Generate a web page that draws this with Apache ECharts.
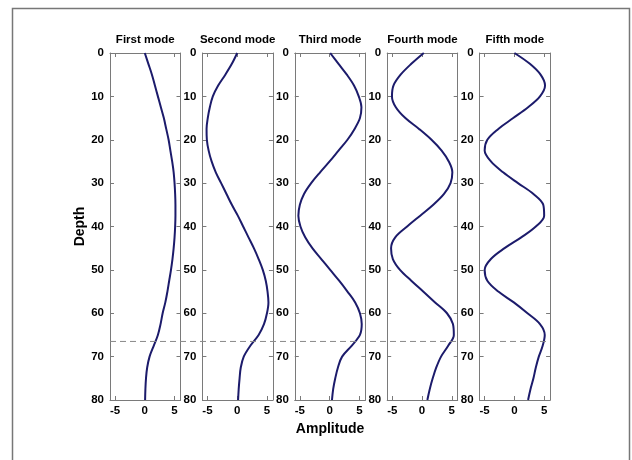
<!DOCTYPE html>
<html>
<head>
<meta charset="utf-8">
<script src="https://cdn.jsdelivr.net/npm/echarts@6/dist/echarts.min.js"></script>
<style>
html,body{margin:0;padding:0;background:#fff;}
#chart{width:632px;height:460px;}
</style>
</head>
<body>
<div id="chart"></div>
<script>
// ---- data ----
const titles = ['First mode', 'Second mode', 'Third mode', 'Fourth mode', 'Fifth mode'];
const depths = [0, 2.5, 5, 7.5, 10, 12.5, 15, 17.5, 20, 22.5, 25, 27.5, 30, 32.5, 35, 37.5, 40,
                42.5, 45, 47.5, 50, 52.5, 55, 57.5, 60, 62.5, 65, 67.5, 70, 72.5, 75, 77.5, 80];
const mode1 = [0.0, 0.6, 1.2, 1.7, 2.2, 2.7, 3.2, 3.6, 4.0, 4.3, 4.6, 4.85, 5.0, 5.1, 5.15, 5.15, 5.1,
               5.0, 4.85, 4.65, 4.4, 4.1, 3.8, 3.45, 3.0, 2.65, 2.2, 1.5, 0.8, 0.4, 0.2, 0.1, 0.05];
const mode2 = [0.0, -0.9, -2.0, -3.2, -4.1, -4.6, -4.95, -5.15, -5.1, -4.8, -4.3, -3.6, -2.7, -1.8, -0.9, 0.1, 1.0,
               1.9, 2.8, 3.6, 4.3, 4.8, 5.1, 5.25, 5.0, 4.5, 3.6, 2.2, 1.1, 0.6, 0.4, 0.25, 0.15];
const mode3 = [0.1, 1.5, 2.9, 4.1, 4.9, 5.35, 5.1, 4.2, 3.0, 1.5, 0.0, -1.6, -3.1, -4.3, -5.0, -5.25, -4.9,
               -4.1, -2.9, -1.4, 0.1, 1.6, 3.0, 4.3, 5.1, 5.4, 5.1, 3.7, 2.1, 1.4, 0.95, 0.6, 0.4];
const mode4 = [0.3, -1.8, -3.6, -4.8, -5.05, -4.4, -2.8, -0.5, 1.6, 3.3, 4.5, 5.1, 4.8, 3.7, 1.9, -0.3, -2.5,
               -4.5, -5.2, -4.9, -3.7, -1.8, 0.2, 2.2, 4.2, 5.2, 5.35, 4.4, 3.2, 2.4, 1.8, 1.3, 0.9];
const mode5 = [0.0, 2.6, 4.4, 5.15, 4.3, 2.3, -0.2, -2.7, -4.55, -5.0, -3.95, -1.9, 0.6, 3.2, 4.85, 5.0, 3.6,
               1.15, -1.65, -3.95, -5.0, -4.55, -2.7, -0.1, 2.2, 4.3, 5.1, 4.75, 4.1, 3.6, 3.2, 2.7, 2.3];
const modes = [mode1, mode2, mode3, mode4, mode5];
const xTicks = [-5, 0, 5];
const xMin = -5.85, xMax = 6.0;
const depthMin = 0, depthMax = 80, depthStep = 10;
const dividerDepth = 66.5;

// ---- layout ----
const gridLefts = [110, 202.4, 294.8, 387.2, 479.6];
const gridWidth = 70.5, gridTop = 53, gridHeight = 347;
const axisColor = '#7a7a7a';
const curveColor = '#1c1b6b';
const font = 'Arial, "Liberation Sans", sans-serif';

const chart = echarts.init(document.getElementById('chart'), null, {renderer: 'canvas'});

const grid = [], xAxis = [], yAxis = [], series = [], title = [];
titles.forEach((t, i) => {
  grid.push({left: gridLefts[i], top: gridTop, width: gridWidth, height: gridHeight, containLabel: false});
  title.push({
    text: t, left: gridLefts[i] + gridWidth / 2, top: 34, textAlign: 'center', padding: 0,
    textStyle: {fontFamily: font, fontSize: 11.5, fontWeight: 'bold', color: '#000'}
  });
  const commonLine = {show: true, onZero: false, lineStyle: {color: axisColor, width: 1}};
  xAxis.push({
    type: 'value', gridIndex: i, position: 'bottom', min: xMin, max: xMax,
    axisLine: commonLine,
    axisTick: {show: true, inside: true, length: 4, customValues: xTicks, lineStyle: {color: axisColor}},
    axisLabel: {show: true, customValues: xTicks, margin: 5, fontFamily: font, fontSize: 11.5, fontWeight: 'bold', color: '#000'},
    splitLine: {show: false},
    name: i === 2 ? 'Amplitude' : '', nameLocation: 'middle', nameGap: 11,
    nameTextStyle: {fontFamily: font, fontSize: 14, fontWeight: 'bold', color: '#000'}
  });
  xAxis.push({
    type: 'value', gridIndex: i, position: 'top', min: xMin, max: xMax,
    axisLine: commonLine,
    axisTick: {show: true, inside: true, length: 4, customValues: xTicks, lineStyle: {color: axisColor}},
    axisLabel: {show: false},
    splitLine: {show: false}
  });
  yAxis.push({
    type: 'value', gridIndex: i, position: 'left', inverse: true, min: depthMin, max: depthMax, interval: depthStep,
    axisLine: commonLine,
    axisTick: {show: true, inside: true, length: 4, lineStyle: {color: axisColor}},
    axisLabel: {show: true, margin: 6, fontFamily: font, fontSize: 11.5, fontWeight: 'bold', color: '#000'},
    splitLine: {show: false},
    name: i === 0 ? 'Depth' : '', nameLocation: 'middle', nameGap: 19, nameRotate: 90,
    nameTextStyle: {fontFamily: font, fontSize: 14, fontWeight: 'bold', color: '#000'}
  });
  yAxis.push({
    type: 'value', gridIndex: i, position: 'right', inverse: true, min: depthMin, max: depthMax, interval: depthStep,
    axisLine: commonLine,
    axisTick: {show: true, inside: true, length: 4, lineStyle: {color: axisColor}},
    axisLabel: {show: false},
    splitLine: {show: false}
  });
  series.push({
    type: 'line', xAxisIndex: 2 * i, yAxisIndex: 2 * i,
    data: depths.map((d, k) => [modes[i][k], d]),
    showSymbol: false, smooth: 0.35, animation: false,
    lineStyle: {color: curveColor, width: 2}, z: 3
  });
});

const frame = {
  type: 'rect', silent: true,
  shape: {x: 12.5, y: 8.5, width: 617, height: 470},
  style: {fill: 'none', stroke: '#777', lineWidth: 1.5}
};

chart.setOption({
  animation: false,
  backgroundColor: '#fff',
  title, grid, xAxis, yAxis, series,
  graphic: [frame]
});

// dashed divider line, placed through the axes' own scales
const yPix = chart.convertToPixel({yAxisIndex: 0}, dividerDepth);
const xStart = chart.convertToPixel({xAxisIndex: 0}, xMin);
const xEnd = chart.convertToPixel({xAxisIndex: 2 * (titles.length - 1)}, xMax);
chart.setOption({
  graphic: [frame, {
    type: 'line', silent: true, z: 10,
    shape: {x1: xStart, y1: yPix, x2: xEnd, y2: yPix},
    style: {stroke: '#888', lineWidth: 1, lineDash: [6, 4]}
  }]
});
</script>
</body>
</html>
